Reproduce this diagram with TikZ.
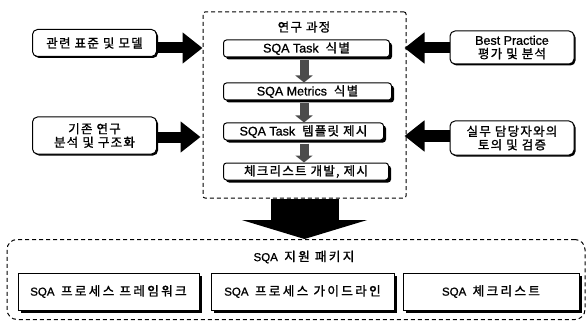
\documentclass[tikz,border=0pt]{standalone}
\usepackage{fontspec}
\setmainfont{Liberation Sans}[FakeBold=1]
\newfontfamily\krf{Noto Sans CJK KR}[LetterSpace=10, FakeBold=1.2]
\newfontfamily\krbf{Noto Sans CJK KR}[Scale=1.1, LetterSpace=18, FakeBold=1.2]
\newcommand\kr[1]{{\krf #1}}
\newcommand\krb[1]{{\krbf #1}}
\usetikzlibrary{arrows.meta,calc,shadows}
\begin{document}
\begin{tikzpicture}[x=1pt,y=-1pt,
  font=\fontsize{12.5}{14.5}\selectfont,
  cbox/.style={draw, line width=1pt, rounded corners=3pt, fill=white, inner sep=0pt,
    minimum height=17pt, anchor=west,
    drop shadow={shadow xshift=2.5pt, shadow yshift=-2.5pt, fill=black, opacity=1}},
  sbox/.style={draw, line width=1pt, rounded corners=5pt, fill=white, inner sep=0pt,
    minimum width=124pt, align=center,
    drop shadow={shadow xshift=1.5pt, shadow yshift=-1.5pt, fill=black, opacity=1}},
  pbox/.style={draw, line width=1pt, fill=white, inner sep=0pt, minimum height=37pt,
    font=\fontsize{11.5}{14}\selectfont,
    drop shadow={shadow xshift=3pt, shadow yshift=-3pt, fill=black, opacity=1}},
  dashbox/.style={draw, line width=1pt, dash pattern=on 4pt off 3pt, inner sep=0pt},
  bigarr/.style={draw=black, line width=11pt, -{Triangle[length=20pt,width=30pt]}},
  smallarr/.style={draw=black!70, line width=9pt, -{Triangle[length=7pt,width=17pt]}, color=black!70},
  downarr/.style={line width=68pt, -{Triangle[length=19pt,width=125pt]}}
]
\useasboundingbox (0,0) rectangle (587,321);

% center dashed frame
\node[dashbox, rounded corners=2pt, minimum width=203pt, minimum height=186pt] (C) at (304.5,105) {};
\node (ct) at (304,27) {\kr{연구 과정}};

\node[cbox, minimum width=166pt] (t1) at (223,48.5) {SQA Task\ \ \kr{식별}};
\node[cbox, minimum width=168pt] (t2) at (223,91.5) {SQA Metrics\ \ \kr{식별}};
\node[cbox, minimum width=160pt] (t3) at (223,131.5) {SQA Task\ \ \kr{템플릿 제시}};
\node[cbox, minimum width=165pt] (t4) at (223,171.5) {\kr{체크리스트 개발, 제시}};

\coordinate (ax) at (304,0);
\draw[smallarr] ($(t1.south -| ax)+(0,3)$) -- (t2.north -| ax);
\draw[smallarr] ($(t2.south -| ax)+(0,3)$) -- (t3.north -| ax);
\draw[smallarr] ($(t3.south -| ax)+(0,3)$) -- (t4.north -| ax);

% side boxes
\node[sbox, minimum height=27pt] (L1) at (94.5,43) {\kr{관련 표준 및 모델}};
\node[sbox, minimum height=37pt] (L2) at (94.5,135.5) {\kr{기존 연구}\\[-1pt]\kr{분석 및 구조화}};
\node[sbox, minimum height=33pt] (R1) at (512,47.5) {Best Practice\\[-1pt]\kr{평가 및 분석}};
\node[sbox, minimum height=34pt] (R2) at (512,138) {\kr{실무 담당자와의}\\[-1pt]\kr{토의 및 검증}};

\coordinate (a1) at ([yshift=-5pt]L1.east);
\draw[bigarr] (a1) -- (a1 -| C.west);
\coordinate (a2) at ([yshift=-1.5pt]L2.east);
\draw[bigarr] (a2) -- ([xshift=-2pt]a2 -| C.west);
\coordinate (a3) at ([yshift=-0.5pt]R1.west);
\draw[bigarr] (a3) -- ([xshift=-2pt]a3 -| C.east);
\coordinate (a4) at ([yshift=2pt]R2.west);
\draw[bigarr] (a4) -- ([xshift=-2pt]a4 -| C.east);

% bottom package frame
\node[dashbox, rounded corners=10pt, minimum width=578pt, minimum height=80pt] (B) at (296,279.5) {};
\node[font=\fontsize{11.5}{14}\selectfont] (bt) at (304,257) {SQA\ \ \krb{지원 패키지}};

\draw[downarr] (C.south) -- (C.south |- B.north);

\node[pbox, minimum width=181pt] (p1) at (108.5,291.5) {SQA\ \ \krb{프로세스 프레임워크}};
\node[pbox, minimum width=183pt] (p2) at (302.5,291.5) {SQA\ \ \krb{프로세스 가이드라인}};
\node[pbox, minimum width=176pt] (p3) at (491,291.5) {SQA\ \ \krb{체크리스트}};
\end{tikzpicture}
\end{document}
